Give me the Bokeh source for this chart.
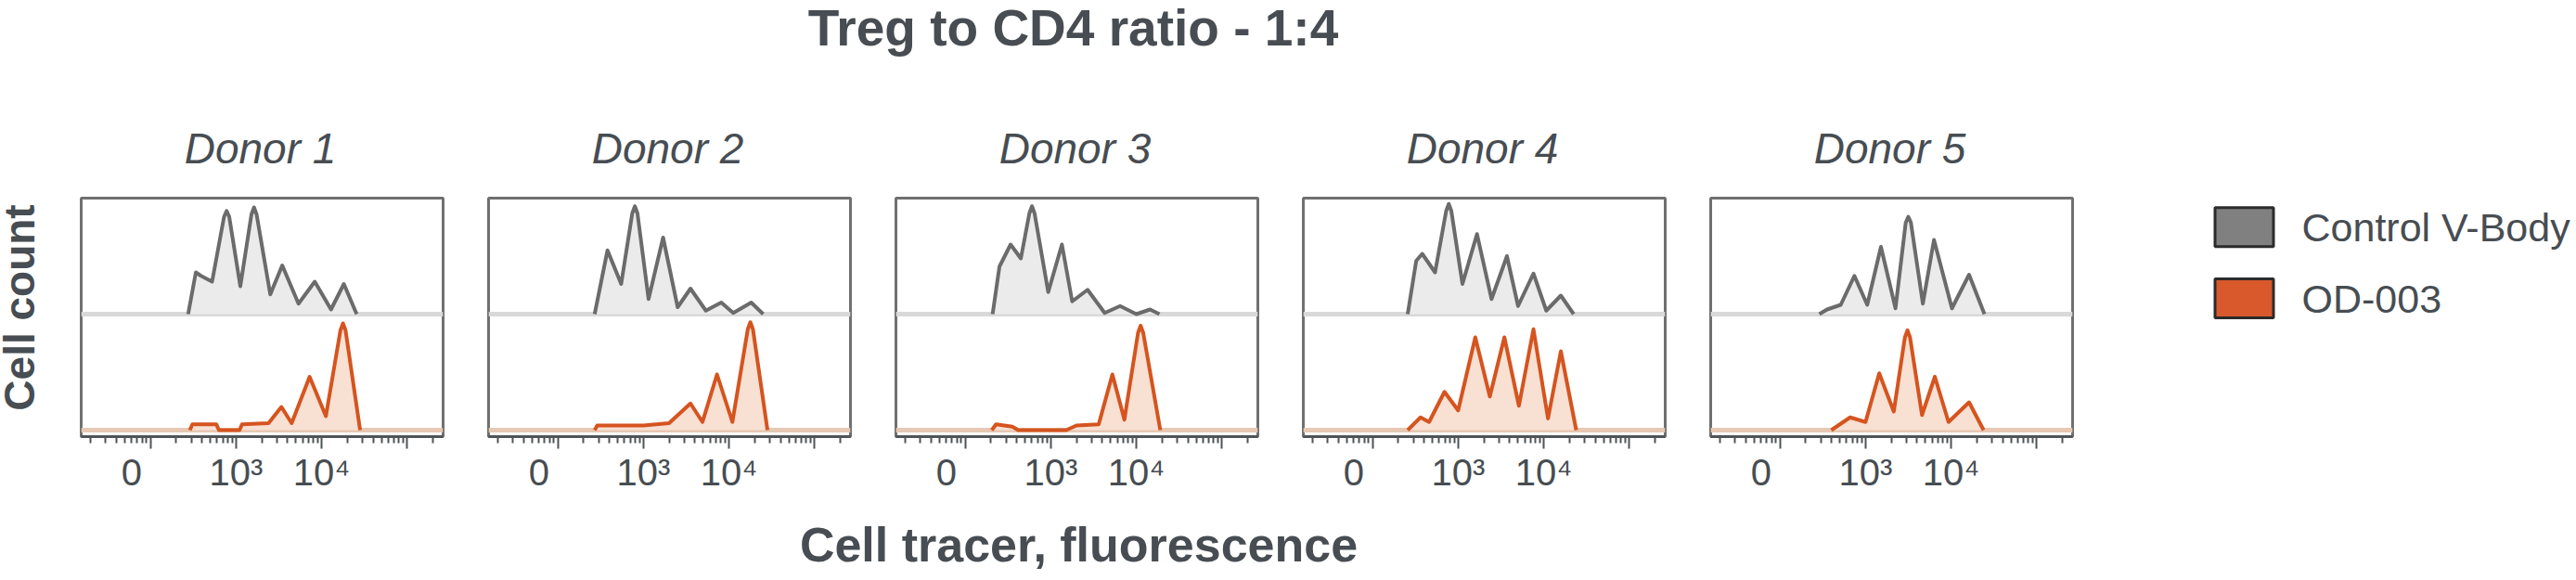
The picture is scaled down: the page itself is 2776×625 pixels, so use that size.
import math
from bokeh.plotting import figure
from bokeh.models import Range1d, LinearAxis, FixedTicker, Label, Span, ColumnDataSource
from bokeh.layouts import row, column
from bokeh.embed import file_html
from bokeh.resources import INLINE
from bokeh.core.properties import value

# ---------------- data (x = log10 fluorescence, y = normalised count) ----------------
donors = ["Donor 1", "Donor 2", "Donor 3", "Donor 4", "Donor 5"]
series_names = ["Control V-Body", "OD-003"]
series_colors = ["#808080", "#d9582c"]
title_text = "Treg to CD4 ratio - 1:4"
x_label = "Cell tracer, fluorescence"
y_label = "Cell count"

ctrl_x_d1 = [2.44, 2.53, 2.59, 2.72, 2.86, 2.89, 2.92, 3.05, 3.18, 3.21, 3.24, 3.40, 3.54, 3.73, 3.92, 4.11, 4.26, 4.41]
ctrl_y_d1 = [0.00, 0.36, 0.33, 0.28, 0.84, 0.89, 0.84, 0.24, 0.86, 0.92, 0.86, 0.17, 0.42, 0.09, 0.28, 0.04, 0.26, 0.00]
od_x_d1 = [2.46, 2.49, 2.77, 2.80, 3.04, 3.07, 3.38, 3.53, 3.65, 3.86, 4.05, 4.22, 4.25, 4.28, 4.45]
od_y_d1 = [0.00, 0.05, 0.05, 0.00, 0.00, 0.05, 0.06, 0.20, 0.06, 0.46, 0.12, 0.86, 0.92, 0.86, 0.00]

ctrl_x_d2 = [2.43, 2.58, 2.74, 2.87, 2.90, 2.93, 3.06, 3.23, 3.40, 3.55, 3.73, 3.91, 4.05, 4.26, 4.40]
ctrl_y_d2 = [0.00, 0.55, 0.26, 0.87, 0.93, 0.87, 0.13, 0.66, 0.06, 0.22, 0.03, 0.10, 0.01, 0.10, 0.00]
od_x_d2 = [2.43, 2.46, 3.00, 3.30, 3.55, 3.69, 3.86, 4.04, 4.22, 4.25, 4.28, 4.45]
od_y_d2 = [0.00, 0.04, 0.04, 0.06, 0.23, 0.07, 0.48, 0.07, 0.87, 0.93, 0.87, 0.00]

ctrl_x_d3 = [2.32, 2.40, 2.53, 2.65, 2.75, 2.78, 2.81, 2.97, 3.13, 3.25, 3.43, 3.63, 3.81, 4.00, 4.16, 4.27]
ctrl_y_d3 = [0.00, 0.41, 0.60, 0.48, 0.87, 0.93, 0.87, 0.19, 0.60, 0.11, 0.21, 0.01, 0.07, 0.00, 0.04, 0.00]
od_x_d3 = [2.31, 2.36, 2.55, 2.62, 3.18, 3.30, 3.56, 3.72, 3.86, 4.02, 4.05, 4.08, 4.28]
od_y_d3 = [0.00, 0.05, 0.03, 0.00, 0.00, 0.04, 0.05, 0.48, 0.09, 0.84, 0.90, 0.84, 0.00]

ctrl_x_d4 = [2.41, 2.51, 2.58, 2.73, 2.86, 2.89, 2.92, 3.05, 3.22, 3.39, 3.57, 3.70, 3.88, 4.03, 4.20, 4.35]
ctrl_y_d4 = [0.00, 0.46, 0.52, 0.36, 0.89, 0.95, 0.89, 0.26, 0.69, 0.13, 0.50, 0.07, 0.35, 0.03, 0.16, 0.00]
od_x_d4 = [2.41, 2.56, 2.66, 2.84, 3.00, 3.20, 3.37, 3.54, 3.71, 3.88, 4.05, 4.20, 4.38]
od_y_d4 = [0.00, 0.11, 0.07, 0.33, 0.17, 0.80, 0.29, 0.80, 0.21, 0.87, 0.10, 0.68, 0.00]

ctrl_x_d5 = [2.46, 2.55, 2.71, 2.87, 3.02, 3.18, 3.35, 3.47, 3.50, 3.53, 3.67, 3.80, 4.01, 4.21, 4.39]
ctrl_y_d5 = [0.00, 0.04, 0.08, 0.33, 0.08, 0.58, 0.05, 0.79, 0.84, 0.79, 0.09, 0.64, 0.05, 0.34, 0.00]
od_x_d5 = [2.60, 2.82, 3.00, 3.16, 3.33, 3.46, 3.49, 3.52, 3.66, 3.81, 3.97, 4.21, 4.38]
od_y_d5 = [0.00, 0.11, 0.07, 0.49, 0.16, 0.80, 0.86, 0.80, 0.13, 0.46, 0.07, 0.24, 0.00]

ctrl_x = [ctrl_x_d1, ctrl_x_d2, ctrl_x_d3, ctrl_x_d4, ctrl_x_d5]
ctrl_y = [ctrl_y_d1, ctrl_y_d2, ctrl_y_d3, ctrl_y_d4, ctrl_y_d5]
od_x = [od_x_d1, od_x_d2, od_x_d3, od_x_d4, od_x_d5]
od_y = [od_y_d1, od_y_d2, od_y_d3, od_y_d4, od_y_d5]

# axis ticks (log10 units) and tick labels
major_ticks = [2, 3, 4, 5]
label_ticks = [1.78, 3, 4]
tick_labels = ["0", "10\u00b3", "10\u2074"]

# ---------------- style / layout ----------------
TXT = "#474d52"
AX = "#4f5457"
FRAME = "#707070"
FONT = "Liberation Sans"
GRAY_LINE, GRAY_FILL, GRAY_BASE = "#6b6b6b", "#ebebeb", "#d9d9d9"
OR_LINE, OR_FILL, OR_BASE = "#d5541f", "#f8e0d3", "#e6c8b3"

minor_ticks = [math.log10(k * 10 ** n) for n in range(1, 6) for k in range(2, 10)]

W, H = 2776, 625
YLAB_W = 50
HEAD_H = 205          # title + donor names
ROW_H = 345           # panels
FOOT_H = H - HEAD_H - ROW_H
FRAME_W = 390
PAD_L, PAD_R = 24, 25
FIRST_L = 87 - YLAB_W
TOP_B = 213 - HEAD_H
FRAME_H = 257
BOT_B = ROW_H - TOP_B - FRAME_H
LABEL_SHIFT = 20      # Label baseline correction (px)


def blank(width, height, xr=(0, 1), yr=(0, 1)):
    f = figure(width=width, height=height, x_range=Range1d(*xr), y_range=Range1d(*yr),
               output_backend="svg", toolbar_location=None,
               x_axis_location=None, y_axis_location=None, min_border=0)
    f.xgrid.visible = False
    f.ygrid.visible = False
    f.outline_line_color = None
    f.background_fill_color = "white"
    f.border_fill_color = "white"
    return f


figs = []
frame_left = []       # page x of each frame's left edge
x0 = YLAB_W
for i in range(5):
    lb = FIRST_L if i == 0 else PAD_L
    frame_left.append(x0 + lb)
    p = figure(width=lb + FRAME_W + PAD_R, height=ROW_H,
               x_range=Range1d(1.19, 5.42), y_range=Range1d(-0.056, 2.0),
               output_backend="svg", toolbar_location=None,
               x_axis_location=None, y_axis_location=None,
               min_border_left=lb, min_border_right=PAD_R,
               min_border_top=TOP_B, min_border_bottom=BOT_B)
    x0 += lb + FRAME_W + PAD_R
    p.xgrid.visible = False
    p.ygrid.visible = False
    p.outline_line_color = FRAME
    p.outline_line_width = 3
    p.background_fill_color = "white"
    p.border_fill_color = "white"

    ax = LinearAxis(ticker=FixedTicker(ticks=major_ticks, minor_ticks=minor_ticks),
                    major_label_overrides={t: "" for t in major_ticks},
                    major_label_text_font_size="1px", major_label_standoff=0,
                    axis_line_color=AX, axis_line_width=3,
                    major_tick_line_color=AX, major_tick_line_width=2,
                    minor_tick_line_color=AX, minor_tick_line_width=2,
                    major_tick_in=0, major_tick_out=13, minor_tick_in=0, minor_tick_out=7)
    axl = LinearAxis(ticker=FixedTicker(ticks=label_ticks, minor_ticks=[]),
                     major_label_overrides=dict(zip(label_ticks, tick_labels)),
                     major_label_text_font=FONT, major_label_text_font_size="40px",
                     major_label_text_color=TXT, major_label_standoff=3,
                     axis_line_color=None, major_tick_line_color=None,
                     minor_tick_line_color=None, major_tick_in=0, major_tick_out=0)
    p.add_layout(ax, "below")
    p.add_layout(axl, "below")

    p.add_layout(Span(location=0, dimension="width", line_color=OR_BASE, line_width=5, level="underlay"))
    p.add_layout(Span(location=1, dimension="width", line_color=GRAY_BASE, line_width=5, level="underlay"))

    cy = [1 + v for v in ctrl_y[i]]
    p.varea(x=ctrl_x[i], y1=[1] * len(cy), y2=cy, fill_color=GRAY_FILL)
    p.line(x=ctrl_x[i], y=cy, line_color=GRAY_LINE, line_width=4, line_join="round")
    p.varea(x=od_x[i], y1=[0] * len(od_y[i]), y2=od_y[i], fill_color=OR_FILL)
    p.line(x=od_x[i], y=od_y[i], line_color=OR_LINE, line_width=4, line_join="round")
    figs.append(p)

RIGHT_W = W - YLAB_W

# ---- header: title + donor names ----
head = blank(RIGHT_W, HEAD_H)
panels_mid = (frame_left[0] + frame_left[-1] + FRAME_W) / 2 - YLAB_W
head.add_layout(Label(x=panels_mid - 4, y=HEAD_H - 43 + LABEL_SHIFT - 6, x_units="screen", y_units="screen",
                      text=title_text, text_font=FONT, text_font_size="55px",
                      text_font_style="bold", text_color=TXT, text_align="center",
                      text_baseline="alphabetic"))
for i, name in enumerate(donors):
    head.add_layout(Label(x=frame_left[i] - YLAB_W + FRAME_W / 2 - 2, y=HEAD_H - 179 + LABEL_SHIFT,
                          x_units="screen", y_units="screen", text=name,
                          text_font=FONT, text_font_size="46px", text_font_style="italic",
                          text_color=TXT, text_align="center", text_baseline="alphabetic"))

# ---- y label strip, full height ----
ylab = blank(YLAB_W, H, (0, YLAB_W), (0, H))
ylab.text(x=[20], y=[H - 331], text=[y_label], angle=math.pi / 2,
          text_font=value(FONT), text_font_size=value("46px"), text_font_style="bold",
          text_color=TXT, text_align="center", text_baseline="middle")

# ---- legend panel ----
LEG_W = W - x0
leg = blank(LEG_W, ROW_H, (0, LEG_W), (ROW_H, 0))
sw_x = 2418 - x0
txt_x = 2480 - x0
row_y = [247 - HEAD_H + k * 103 for k in range(len(series_names))]
lsrc = ColumnDataSource(dict(name=series_names, color=series_colors, y=row_y,
                             sx=[sw_x] * len(series_names), tx=[txt_x] * len(series_names)))
leg.rect(x="sx", y="y", width=63, height=42, width_units="screen", height_units="screen",
         source=lsrc, fill_color="color", line_color="#2b2b2b", line_width=3)
leg.text(x="tx", y="y", text="name", source=lsrc, text_font=value(FONT),
         text_font_size=value("43px"), text_color=TXT, text_baseline="middle",
         text_align="left")

# ---- footer: x label ----
foot = blank(RIGHT_W, FOOT_H)
foot.add_layout(Label(x=panels_mid + 2, y=H - 603 + LABEL_SHIFT - 3, x_units="screen", y_units="screen",
                      text=x_label, text_font=FONT, text_font_size="52px",
                      text_font_style="bold", text_color=TXT, text_align="center",
                      text_baseline="alphabetic"))

right = column(head, row(*figs, leg, spacing=0), foot, spacing=0)
layout = row(ylab, right, spacing=0)
open("out.html", "w").write(file_html(layout, INLINE))
